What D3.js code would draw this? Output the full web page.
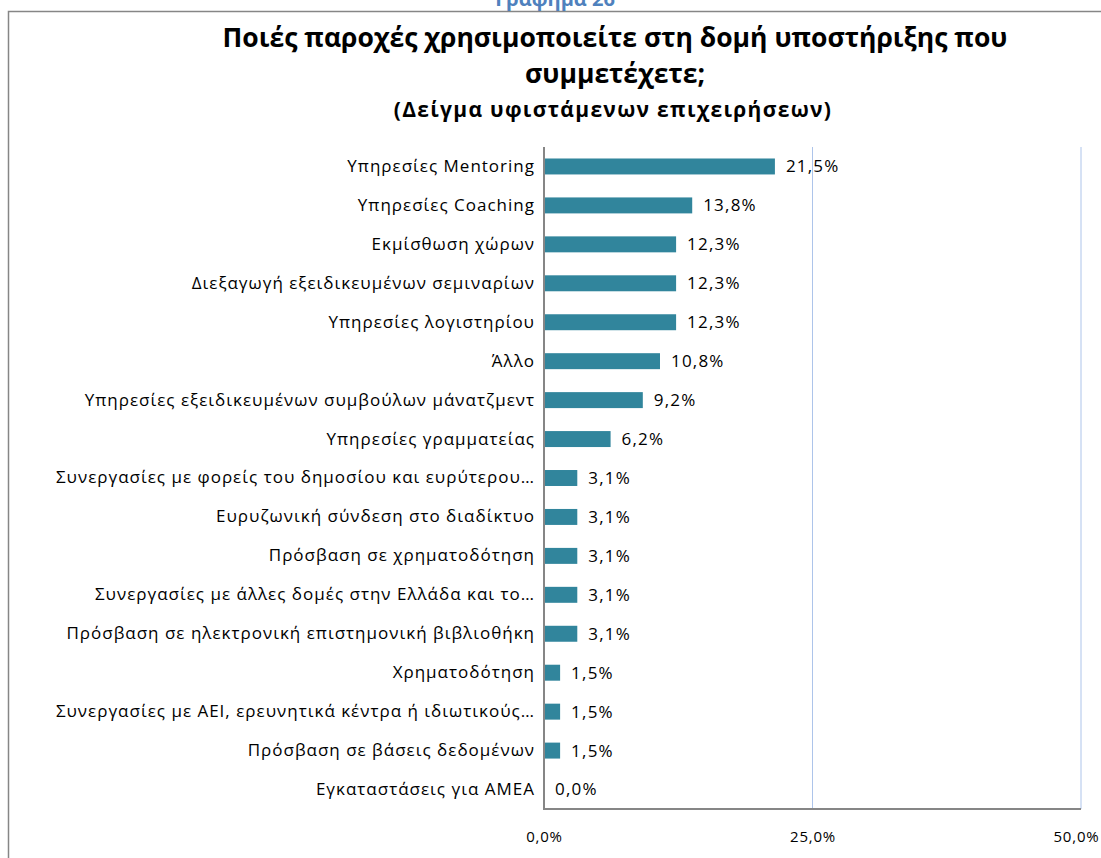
<!DOCTYPE html>
<html><head><meta charset="utf-8">
<script src="https://cdn.jsdelivr.net/npm/d3@7"></script>
<style>body{margin:0;background:#fff}svg{display:block}</style>
</head><body>
<script>
const categories = [
  "Υπηρεσίες Mentoring",
  "Υπηρεσίες Coaching",
  "Εκμίσθωση χώρων",
  "Διεξαγωγή εξειδικευμένων σεμιναρίων",
  "Υπηρεσίες λογιστηρίου",
  "Άλλο",
  "Υπηρεσίες εξειδικευμένων συμβούλων μάνατζμεντ",
  "Υπηρεσίες γραμματείας",
  "Συνεργασίες με φορείς του δημοσίου και ευρύτερου…",
  "Ευρυζωνική σύνδεση στο διαδίκτυο",
  "Πρόσβαση σε χρηματοδότηση",
  "Συνεργασίες με άλλες δομές στην Ελλάδα και το…",
  "Πρόσβαση σε ηλεκτρονική επιστημονική βιβλιοθήκη",
  "Χρηματοδότηση",
  "Συνεργασίες με ΑΕΙ, ερευνητικά κέντρα ή ιδιωτικούς…",
  "Πρόσβαση σε βάσεις δεδομένων",
  "Εγκαταστάσεις για ΑΜΕΑ"
];
const values = [21.5, 13.8, 12.3, 12.3, 12.3, 10.8, 9.2, 6.2, 3.1, 3.1, 3.1, 3.1, 3.1, 1.5, 1.5, 1.5, 0.0];
const ticks = [0, 25, 50];
const caption = "Γράφημα 26";
const titleLines = ["Ποιές παροχές χρησιμοποιείτε στη δομή υποστήριξης που", "συμμετέχετε;"];
const subtitle = "(Δείγμα υφιστάμενων επιχειρήσεων)";

const W = 1101, H = 858;
const svg = d3.select("body").append("svg").attr("width", W).attr("height", H);
const font = "Open Sans, Noto Sans, sans-serif";
const fmt = v => v.toFixed(1).replace(".", ",") + "%";

// outer chart border
svg.append("rect").attr("x", 8.5).attr("y", 11.5).attr("width", 1200).attr("height", 900)
  .attr("fill", "#fff").attr("stroke", "#868686").attr("stroke-width", 1.5);

svg.append("text").attr("x", 555).attr("y", 6).attr("text-anchor", "middle")
  .attr("font-family", font).attr("font-weight", "bold").attr("font-size", 20)
  .attr("fill", "#4f81bd").text(caption);

svg.selectAll("text.title").data(titleLines).join("text").attr("class", "title")
  .attr("x", 615).attr("y", (d, i) => 47 + i * 36).attr("text-anchor", "middle")
  .attr("font-family", font).attr("font-weight", "bold").attr("font-size", 26.5)
  .attr("fill", "#000").text(d => d);
svg.append("text").attr("x", 613).attr("y", 117).attr("text-anchor", "middle")
  .attr("font-family", font).attr("font-weight", "bold").attr("font-size", 21)
  .attr("letter-spacing", 1.3).attr("fill", "#000").text(subtitle);

const x = d3.scaleLinear().domain([0, 50]).range([544, 1081]);
const y = d3.scaleBand().domain(categories).range([147, 809]).paddingInner(0.59).paddingOuter(0.295);

// gridlines
svg.selectAll("line.grid").data(ticks.filter(t => t > 0)).join("line").attr("class", "grid")
  .attr("x1", d => x(d)).attr("x2", d => x(d)).attr("y1", 147).attr("y2", 809)
  .attr("stroke", "#adc4ea").attr("stroke-width", 1);

// bars
svg.selectAll("rect.bar").data(values).join("rect").attr("class", "bar")
  .attr("x", x(0)).attr("y", (d, i) => y(categories[i]))
  .attr("width", d => x(d) - x(0)).attr("height", y.bandwidth())
  .attr("fill", "#31859c");

// value labels
svg.selectAll("text.val").data(values).join("text").attr("class", "val")
  .attr("x", d => x(d) + 11).attr("y", (d, i) => y(categories[i]) + y.bandwidth() / 2)
  .attr("dy", "0.35em").attr("font-family", font).attr("font-size", 17)
  .attr("letter-spacing", 1.2).attr("fill", "#000").text(d => fmt(d));

// y axis
const yAxis = svg.append("g").attr("transform", `translate(${x(0)},0)`)
  .call(d3.axisLeft(y).tickSize(0).tickPadding(9));
yAxis.select(".domain").remove();
yAxis.selectAll("text").attr("font-family", font).attr("font-size", 17)
  .attr("letter-spacing", 1).attr("fill", "#000");

// x axis
const xAxis = svg.append("g").attr("transform", `translate(0,809)`)
  .call(d3.axisBottom(x).tickValues(ticks).tickSize(0).tickPadding(22).tickFormat(d => fmt(d)));
xAxis.select(".domain").remove();
xAxis.selectAll("text").attr("font-family", font).attr("font-size", 15)
  .attr("letter-spacing", 0.8).attr("fill", "#000");
xAxis.selectAll("text").filter(d => d === 50).attr("text-anchor", "end").attr("dx", 18);

// axis lines
svg.append("line").attr("x1", x(0)).attr("x2", x(0)).attr("y1", 147).attr("y2", 810)
  .attr("stroke", "#868686").attr("stroke-width", 2);
svg.append("line").attr("x1", x(0) - 1).attr("x2", x(50)).attr("y1", 809).attr("y2", 809)
  .attr("stroke", "#868686").attr("stroke-width", 2);
</script>
</body></html>
